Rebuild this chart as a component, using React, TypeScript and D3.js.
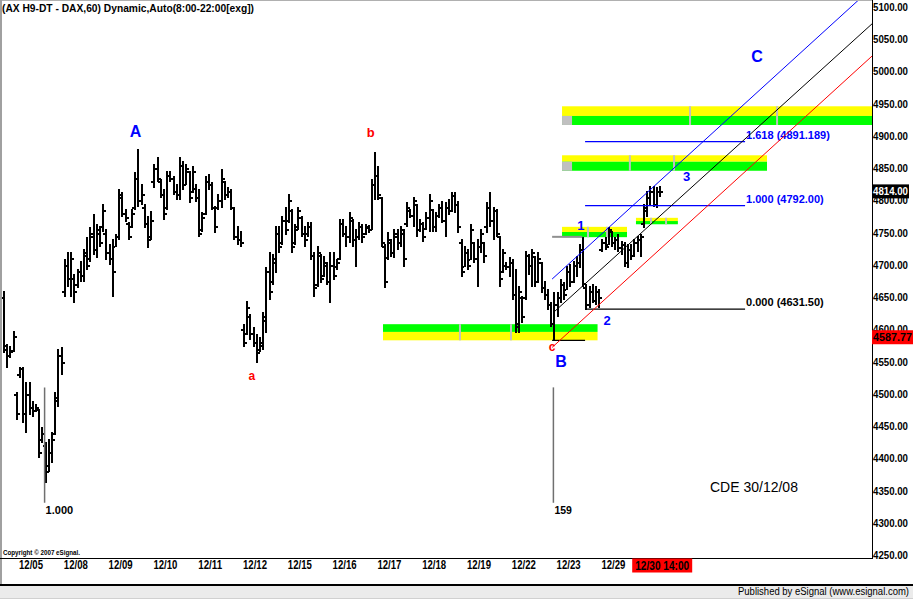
import React from 'react';
import * as d3 from 'd3';

// ---------- DATA ----------
// hourly OHLC bars [open, high, low, close]
const bars: [number, number, number, number][] = [
  [4650, 4659, 4565, 4575], [4570, 4577, 4542, 4560], [4560, 4574, 4557, 4566], [4568, 4597, 4566, 4590],
  [4500, 4503, 4461, 4470], [4530, 4542, 4526, 4540], [4540, 4542, 4456, 4470], [4470, 4518, 4441, 4500],
  [4500, 4518, 4469, 4480], [4480, 4489, 4466, 4475], [4475, 4484, 4473, 4480], [4476, 4476, 4402, 4410],
  [4430, 4449, 4425, 4440], [4420, 4425, 4363, 4380], [4390, 4430, 4380, 4410], [4410, 4441, 4394, 4430],
  [4440, 4503, 4438, 4495], [4490, 4570, 4481, 4560], [4560, 4573, 4531, 4550],
  [4660, 4709, 4652, 4700], [4700, 4720, 4667, 4680], [4680, 4720, 4652, 4710], [4680, 4686, 4642, 4660],
  [4670, 4694, 4666, 4690], [4690, 4706, 4675, 4685], [4685, 4725, 4675, 4720], [4715, 4743, 4694, 4700],
  [4710, 4759, 4706, 4750], [4745, 4779, 4717, 4725], [4725, 4763, 4712, 4755], [4750, 4760, 4729, 4735],
  [4760, 4794, 4753, 4785], [4750, 4756, 4709, 4720], [4720, 4732, 4701, 4710], [4710, 4740, 4652, 4690],
  [4730, 4748, 4729, 4745], [4745, 4818, 4740, 4810], [4805, 4813, 4776, 4780], [4780, 4787, 4768, 4775],
  [4765, 4767, 4740, 4745], [4760, 4787, 4759, 4780], [4790, 4844, 4787, 4835], [4835, 4880, 4791, 4800],
  [4800, 4825, 4794, 4810], [4790, 4794, 4759, 4765], [4765, 4776, 4728, 4740], [4745, 4784, 4740, 4770],
  [4830, 4857, 4821, 4850], [4850, 4867, 4830, 4835], [4830, 4833, 4805, 4810], [4810, 4818, 4771, 4780],
  [4790, 4846, 4787, 4840], [4840, 4846, 4830, 4835], [4835, 4838, 4810, 4815], [4815, 4825, 4802, 4810],
  [4810, 4867, 4802, 4855], [4855, 4861, 4818, 4825], [4825, 4857, 4825, 4850], [4845, 4846, 4798, 4805],
  [4815, 4853, 4813, 4845], [4820, 4825, 4799, 4805], [4805, 4818, 4745, 4750], [4755, 4782, 4753, 4775],
  [4780, 4838, 4779, 4830], [4830, 4841, 4818, 4825], [4825, 4829, 4787, 4790], [4790, 4791, 4751, 4760],
  [4790, 4810, 4787, 4800], [4800, 4849, 4790, 4835], [4830, 4830, 4802, 4810], [4810, 4821, 4805, 4815],
  [4815, 4818, 4787, 4790], [4790, 4790, 4740, 4745], [4745, 4760, 4732, 4740], [4740, 4753, 4729, 4735],
  [4600, 4608, 4574, 4580], [4595, 4644, 4593, 4635], [4620, 4624, 4585, 4595], [4595, 4604, 4574, 4580],
  [4580, 4593, 4549, 4565], [4570, 4588, 4566, 4580], [4575, 4627, 4570, 4620], [4615, 4697, 4596, 4690],
  [4690, 4720, 4647, 4660], [4675, 4717, 4670, 4710], [4705, 4760, 4689, 4750], [4750, 4760, 4720, 4730],
  [4735, 4776, 4732, 4770], [4770, 4790, 4748, 4755], [4770, 4810, 4767, 4800], [4785, 4787, 4720, 4730],
  [4735, 4763, 4732, 4755], [4760, 4790, 4756, 4785], [4775, 4776, 4745, 4750], [4750, 4760, 4729, 4740],
  [4750, 4767, 4745, 4760], [4760, 4767, 4709, 4715], [4715, 4720, 4652, 4665], [4670, 4729, 4667, 4720],
  [4715, 4717, 4673, 4680], [4685, 4714, 4683, 4705], [4700, 4705, 4670, 4675], [4675, 4720, 4642, 4700],
  [4700, 4720, 4678, 4685], [4698, 4709, 4694, 4705], [4710, 4771, 4709, 4765], [4765, 4771, 4745, 4750],
  [4750, 4760, 4729, 4745], [4745, 4782, 4736, 4775], [4770, 4771, 4729, 4740], [4740, 4756, 4698, 4745],
  [4745, 4767, 4740, 4760], [4760, 4763, 4736, 4745], [4750, 4763, 4748, 4760], [4758, 4762, 4751, 4755],
  [4756, 4833, 4756, 4825], [4825, 4875, 4802, 4840], [4840, 4853, 4802, 4810], [4805, 4805, 4729, 4735],
  [4730, 4732, 4666, 4675], [4712, 4751, 4709, 4740], [4735, 4740, 4714, 4720], [4720, 4756, 4712, 4750],
  [4745, 4756, 4725, 4735], [4735, 4760, 4729, 4755], [4750, 4756, 4698, 4710], [4765, 4798, 4760, 4790],
  [4785, 4787, 4774, 4778], [4778, 4805, 4760, 4800], [4794, 4794, 4745, 4755], [4755, 4771, 4753, 4765],
  [4765, 4767, 4737, 4745], [4757, 4782, 4756, 4775], [4775, 4810, 4753, 4800], [4787, 4787, 4753, 4760],
  [4760, 4782, 4753, 4778], [4778, 4794, 4774, 4790], [4790, 4799, 4767, 4770], [4770, 4798, 4745, 4790],
  [4790, 4802, 4779, 4785], [4785, 4813, 4784, 4808], [4808, 4813, 4782, 4795], [4795, 4799, 4751, 4760],
  [4735, 4740, 4683, 4690], [4698, 4729, 4698, 4720], [4720, 4725, 4694, 4700], [4709, 4763, 4709, 4755],
  [4735, 4736, 4705, 4710], [4710, 4740, 4667, 4730], [4730, 4756, 4720, 4750], [4735, 4736, 4705, 4715],
  [4760, 4798, 4751, 4790], [4790, 4813, 4760, 4770], [4770, 4790, 4740, 4785], [4785, 4787, 4745, 4750],
  [4745, 4745, 4667, 4680], [4690, 4725, 4689, 4720], [4700, 4705, 4694, 4698], [4698, 4712, 4683, 4705],
  [4705, 4709, 4647, 4655], [4655, 4694, 4596, 4605], [4610, 4667, 4596, 4660], [4650, 4652, 4611, 4620],
  [4650, 4722, 4647, 4715], [4715, 4717, 4686, 4700], [4700, 4725, 4667, 4720], [4714, 4714, 4667, 4675],
  [4675, 4720, 4673, 4710], [4705, 4705, 4658, 4665], [4665, 4675, 4647, 4655], [4655, 4663, 4632, 4640],
  [4640, 4642, 4605, 4610], [4610, 4658, 4583, 4640], [4640, 4658, 4621, 4650], [4650, 4678, 4642, 4670],
  [4670, 4673, 4647, 4655], [4663, 4698, 4663, 4690], [4690, 4701, 4667, 4675], [4675, 4706, 4673, 4700],
  [4700, 4714, 4683, 4705], [4705, 4732, 4697, 4725], [4725, 4743, 4667, 4672], [4665, 4670, 4632, 4640],
  [4640, 4667, 4635, 4660], [4660, 4670, 4642, 4645], [4645, 4667, 4639, 4660], [4660, 4663, 4635, 4650],
  [4725, 4740, 4722, 4735], [4735, 4743, 4725, 4730], [4732, 4759, 4732, 4755], [4753, 4753, 4729, 4735],
  [4735, 4743, 4725, 4740], [4740, 4748, 4722, 4728], [4728, 4737, 4717, 4732], [4732, 4736, 4698, 4705],
  [4705, 4732, 4697, 4725], [4725, 4732, 4709, 4715], [4715, 4740, 4714, 4735], [4735, 4745, 4722, 4740],
  [4740, 4748, 4714, 4745], [4765, 4794, 4759, 4790], [4785, 4815, 4776, 4805], [4805, 4822, 4794, 4815],
  [4815, 4822, 4791, 4795], [4795, 4821, 4790, 4815], [4815, 4822, 4807, 4814],
];

const priceTicks = [5100, 5050, 5000, 4950, 4900, 4850, 4800, 4750, 4700, 4650, 4600, 4550, 4500, 4450, 4400, 4350, 4300, 4250];
const dateLabels = ['12/05', '12/08', '12/09', '12/10', '12/11', '12/12', '12/15', '12/16', '12/17', '12/18', '12/19', '12/22', '12/23', '12/29'];
const dateLabelBars = [8.75, 22.75, 36.75, 50.75, 64.75, 78.75, 92.75, 106.75, 120.75, 134.75, 148.75, 162.75, 176.75, 190.75];
const lastBarLabel = '12/30 14:00';
const lastBarLabelPos = 206;
const lastPrice = 4814.0;
const markPrice = 4587.77;

// support/resistance zones: [startBar, endBar, topPrice, midPrice, bottomPrice, yellowOnTop(1/0), graySquare(1/0)]
const zones: number[][] = [
  [118.75, 185.8, 4608, 4596, 4583, 0, 0],
  [174.7, 195, 4759, 4751, 4743, 1, 0],
  [197.8, 210.9, 4773, 4768, 4763, 1, 0],
  [174.7, 238.75, 4870, 4860, 4846, 1, 1],
  [174.7, 275, 4946, 4931, 4917, 1, 1],
];
const zoneTicks: number[][] = [
  [142.8, 158.75],
  [182.8, 188.75],
  [202.5, 207.2],
  [195.9, 209.7],
  [214.7, 241.9],
];

// fibonacci projection levels
const fibLevels = [4631.5, 4792.0, 4891.189];
const fibRatios = ['0.000', '1.000', '1.618'];
const fibColors = ['#000000', '#0000ff', '#0000ff'];
const fibStart = 181.9;
const fibEnd = 231.9;

// channel lines: [bar0, price0, bar1, price1]
const channels: number[][] = [
  [171.6, 4678, 271.6, 5130],
  [172.2, 4627, 271.6, 5074],
  [171.6, 4572, 271.6, 5024],
];
const channelColors = ['#0000ff', '#000000', '#ff0000'];

// wave labels: [text, bar, price (baseline), color, size]
const waveLabels: [string, number, number, string, number][] = [
  ['A', 41.4, 4898, '#0000ff', 16],
  ['B', 174.4, 4541, '#0000ff', 16],
  ['C', 235.6, 5015, '#0000ff', 16],
  ['a', 77.8, 4521, '#ff0000', 12],
  ['b', 114.9, 4898, '#ff0000', 13],
  ['c', 171.6, 4567, '#ff0000', 12],
  ['1', 180.6, 4754, '#0000ff', 13],
  ['2', 188.8, 4607, '#0000ff', 13],
  ['3', 213.6, 4830, '#0000ff', 13],
];

// bar counter markers
const counterBars = [13, 172];
const counterLabels = ['1.000', '159'];
const counterTop = 4510;
const counterBottom = 4331;

// wave 1 reference lines
const bLow = 4583;
const w1High = 4743.5;

const W = 913;
const H = 599;

export default function App() {
  const x = d3.scaleLinear().domain([0, 271.5]).range([3, 871.8]);
  const y = d3.scaleLinear().domain([4250, 5100]).range([555, 7]);
  const plotRight = 872;
  const plotBottom = 558;
  const font = "'Liberation Sans', Arial, Helvetica, sans-serif";
  const line = d3.line<[number, number]>().x((d) => x(d[0])).y((d) => y(d[1]));

  return (
    <div style={{ position: 'absolute', left: 0, top: 0, width: W, height: H }}>
      <svg width={W} height={H} style={{ display: 'block' }} fontFamily={font}>
        <rect x={0} y={0} width={W} height={H} fill="#ffffff" />
        <defs>
          <clipPath id="plotClip">
            <rect x={1.5} y={0} width={plotRight - 1.5} height={plotBottom} />
          </clipPath>
        </defs>

        <g clipPath="url(#plotClip)">
          {/* zones */}
          {zones.map((z, i) => {
            const x0 = x(z[0]);
            const x1 = x(z[1]);
            const yTop = y(z[2]);
            const yMid = y(z[3]);
            const yBot = y(z[4]);
            const topColor = z[5] ? '#ffff00' : '#00ff00';
            const botColor = z[5] ? '#00ff00' : '#ffff00';
            return (
              <g key={'z' + i}>
                <rect x={x0} y={yTop} width={x1 - x0} height={yMid - yTop} fill={topColor} />
                <rect x={x0} y={yMid} width={x1 - x0} height={yBot - yMid} fill={botColor} />
                {z[6] ? <rect x={x0} y={yMid} width={10} height={yBot - yMid} fill="#c0c0c0" /> : null}
                {zoneTicks[i].map((t, j) => (
                  <rect key={j} x={x(t) - 1} y={yTop} width={2} height={yBot - yTop} fill="#c0c0c0" />
                ))}
              </g>
            );
          })}

          {/* bars */}
          <g stroke="#000" shapeRendering="crispEdges">
            {bars.map((b, i) => {
              const cx = Math.round(x(i));
              const yo = Math.round(y(b[0]));
              const yc = Math.round(y(b[3]));
              return (
                <g key={'b' + i}>
                  <line x1={cx + 1} x2={cx + 1} y1={Math.round(y(b[1]))} y2={Math.round(y(b[2])) + 1} strokeWidth={2} />
                  <line x1={cx - 2} x2={cx} y1={yo + 1} y2={yo + 1} strokeWidth={2} />
                  <line x1={cx + 2} x2={cx + 4} y1={yc + 1} y2={yc + 1} strokeWidth={2} />
                </g>
              );
            })}
          </g>

          {/* counter markers */}
          {counterBars.map((c, i) => (
            <g key={'c' + i}>
              <line x1={x(c)} x2={x(c)} y1={y(counterTop)} y2={y(counterBottom)} stroke="#707070" strokeWidth={1.5} />
              <text x={x(c) + 1} y={y(counterBottom) + 11} fontSize={i === 0 ? 11 : 10.5} fontWeight="bold" fill="#000">
                {counterLabels[i]}
              </text>
            </g>
          ))}

          {/* wave-1 reference lines */}
          <line x1={x(171.6)} x2={x(181)} y1={y(w1High)} y2={y(w1High)} stroke="#909090" strokeWidth={2} />
          <line x1={x(171.6)} x2={x(fibStart)} y1={y(bLow)} y2={y(bLow)} stroke="#000" strokeWidth={1.2} />

          {/* fib levels */}
          {fibLevels.map((f, i) => (
            <g key={'f' + i}>
              <line x1={x(fibStart)} x2={x(fibEnd)} y1={y(f)} y2={y(f)} stroke={fibColors[i]} strokeWidth={1.2} />
              <text x={x(fibEnd) + 1} y={y(f) - 3} fontSize={11} fontWeight="bold" fill={fibColors[i]}>
                {`${fibRatios[i]} (${i === 2 ? f.toFixed(3) : f.toFixed(2)})`}
              </text>
            </g>
          ))}

          {/* channel lines */}
          {channels.map((c, i) => (
            <path
              key={'ch' + i}
              d={line([[c[0], c[1]], [c[2], c[3]]]) || ''}
              stroke={channelColors[i]}
              strokeWidth={1}
              fill="none"
            />
          ))}

          {/* wave labels */}
          {waveLabels.map((w, i) => (
            <text
              key={'w' + i}
              x={x(w[1])}
              y={y(w[2])}
              fontSize={w[4]}
              fontWeight="bold"
              fill={w[3]}
              textAnchor="middle"
            >
              {w[0]}
            </text>
          ))}

          <text x={710} y={492} fontSize={14} fill="#000">CDE 30/12/08</text>
          <text x={3} y={555} fontSize={7} fontWeight="bold" fill="#000" textLength={77} lengthAdjust="spacingAndGlyphs">
            Copyright © 2007 eSignal.
          </text>
        </g>

        {/* header */}
        <text x={2} y={12} fontSize={11} fontWeight="bold" fill="#000" textLength={252} lengthAdjust="spacingAndGlyphs">
          (AX H9-DT - DAX,60) Dynamic,Auto(8:00-22:00[exg])
        </text>

        {/* borders */}
        <line x1={0} x2={plotRight} y1={0.5} y2={0.5} stroke="#b0b0b0" strokeWidth={1} />
        <line x1={1} x2={1} y1={0} y2={584} stroke="#a0a0a0" strokeWidth={2} />
        <line x1={plotRight + 0.5} x2={plotRight + 0.5} y1={0} y2={plotBottom} stroke="#000" strokeWidth={1} />
        <line x1={0} x2={plotRight + 1} y1={plotBottom + 0.5} y2={plotBottom + 0.5} stroke="#000" strokeWidth={1} />

        {/* price axis */}
        {priceTicks.map((p) => (
          <text key={'p' + p} x={873} y={y(p) + 4} fontSize={10.5} fontWeight="bold" fill="#000" textLength={35} lengthAdjust="spacingAndGlyphs">
            {p.toFixed(2)}
          </text>
        ))}
        <rect x={872} y={y(lastPrice) - 7} width={37} height={14} fill="#000" />
        <text x={873} y={y(lastPrice) + 4} fontSize={10.5} fontWeight="bold" fill="#fff" textLength={35} lengthAdjust="spacingAndGlyphs">
          {lastPrice.toFixed(2)}
        </text>
        <rect x={872} y={y(markPrice) - 7} width={41} height={14} fill="#ff0000" />
        <text x={873} y={y(markPrice) + 4} fontSize={10.5} fontWeight="bold" fill="#000" textLength={39} lengthAdjust="spacingAndGlyphs">
          {markPrice.toFixed(2)}
        </text>

        {/* date axis */}
        {dateLabels.map((d, i) => (
          <text key={'d' + i} x={x(dateLabelBars[i])} y={569} fontSize={12} fontWeight="bold" fill="#000" textAnchor="middle" textLength={24} lengthAdjust="spacingAndGlyphs">
            {d}
          </text>
        ))}
        <rect x={x(lastBarLabelPos) - 30} y={558.5} width={60} height={14} fill="#ff0000" />
        <text x={x(lastBarLabelPos)} y={569.5} fontSize={12} fontWeight="bold" fill="#000" textAnchor="middle" textLength={54} lengthAdjust="spacingAndGlyphs">
          {lastBarLabel}
        </text>

        {/* footer */}
        <line x1={0} x2={W} y1={585} y2={585} stroke="#000" strokeWidth={2} />
        <rect x={0} y={586} width={W} height={13} fill="#ebebeb" />
        <line x1={0} x2={W} y1={598.5} y2={598.5} stroke="#d0d0d0" strokeWidth={1} />
        <text x={909} y={595} fontSize={10} fill="#000" textAnchor="end" textLength={171} lengthAdjust="spacingAndGlyphs">
          Published by eSignal (www.esignal.com)
        </text>
      </svg>
    </div>
  );
}
